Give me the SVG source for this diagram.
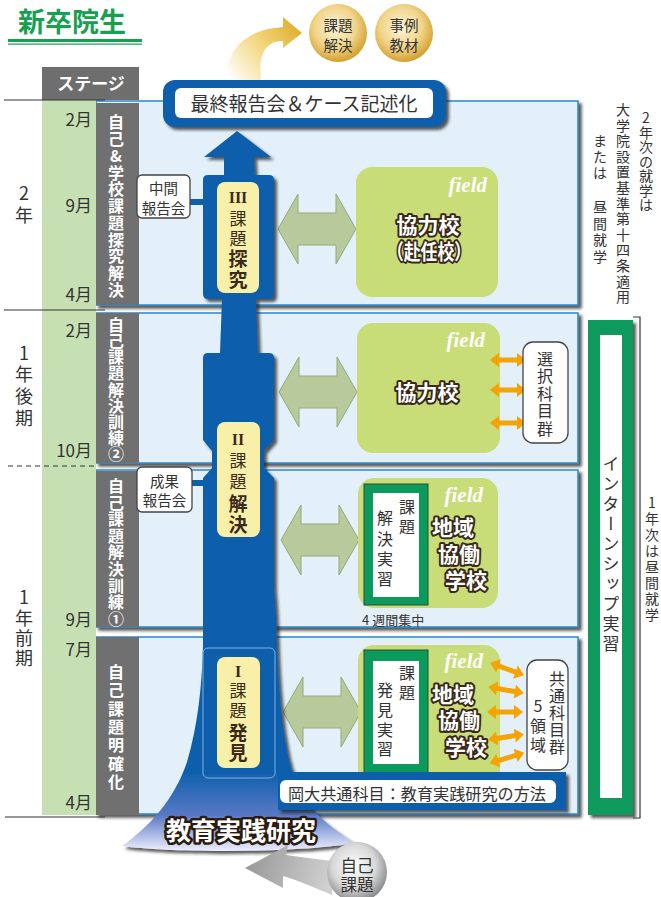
<svg xmlns="http://www.w3.org/2000/svg" width="661" height="897" viewBox="0 0 661 897">
<defs>
<style>
text{font-family:"Noto Sans CJK JP","Noto Sans",sans-serif;}
.panel{fill:#e3f0fa;stroke:#2a88cc;stroke-width:1.5;}
.gcol{fill:#707070;}
.gw{fill:#fff;font-size:16px;font-weight:bold;text-anchor:middle;}
.mon{fill:#333;font-size:17px;text-anchor:end;}
.yr{fill:#333;font-size:18px;text-anchor:middle;}
.fld{fill:#c8dc78;}
.fl{fill:#fff;font-family:"Liberation Serif",serif;font-style:italic;font-weight:bold;font-size:21px;text-anchor:end;}
.ol{fill:#fff;stroke:#3a2818;stroke-width:4px;paint-order:stroke;stroke-linejoin:round;font-weight:bold;font-size:21px;text-anchor:middle;}
.garr{fill:#b8ca9c;stroke:#93a97a;stroke-width:1;}
.oarr{fill:#f4a300;}
.lab{fill:#f8f0a8;}
.lt{fill:#3b2a1c;text-anchor:middle;font-size:17px;}
.ltb{fill:#3b2a1c;text-anchor:middle;font-size:19px;font-weight:bold;}
.rom{fill:#3b2a1c;text-anchor:middle;font-family:"Liberation Serif",serif;font-weight:bold;font-size:16px;}
.box{fill:#fff;stroke:#444;stroke-width:1.3;}
.bt{fill:#333;font-size:14.5px;text-anchor:middle;}
.vt{fill:#333;font-size:16px;text-anchor:middle;}
.note{fill:#333;font-size:14px;text-anchor:middle;}
.blue{fill:#0b5fab;}
.gbox{fill:#0a9a5c;stroke:#2a4a30;stroke-width:1;}
</style>
<filter id="ds" x="-10%" y="-10%" width="130%" height="130%"><feDropShadow dx="3" dy="3" stdDeviation="1.5" flood-color="#222" flood-opacity="0.75"/></filter>
<linearGradient id="gold" x1="230" y1="80" x2="298" y2="28" gradientUnits="userSpaceOnUse"><stop offset="0" stop-color="#ffffff"/><stop offset="0.55" stop-color="#f2d67a"/><stop offset="1" stop-color="#e0b030"/></linearGradient>
<radialGradient id="gc" cx="0.45" cy="0.4" r="0.6"><stop offset="0" stop-color="#fdf6dc"/><stop offset="0.6" stop-color="#f0d488"/><stop offset="1" stop-color="#d4a030"/></radialGradient>
<radialGradient id="sc" cx="0.45" cy="0.4" r="0.6"><stop offset="0" stop-color="#ffffff"/><stop offset="0.6" stop-color="#d8d8d8"/><stop offset="1" stop-color="#8a8a8a"/></radialGradient>
<linearGradient id="garrow" x1="250" y1="860" x2="330" y2="880" gradientUnits="userSpaceOnUse"><stop offset="0" stop-color="#9a9a9a"/><stop offset="1" stop-color="#d0d0d0"/></linearGradient>
<linearGradient id="tw" x1="0" y1="770" x2="0" y2="852" gradientUnits="userSpaceOnUse"><stop offset="0" stop-color="#0b5fab"/><stop offset="0.55" stop-color="#5878c4"/><stop offset="1" stop-color="#f2f2ff"/></linearGradient>
<path id="oa" d="M-18 0 L-9 -7 L-9 -2.5 L9 -2.5 L9 -7 L18 0 L9 7 L9 2.5 L-9 2.5 L-9 7 Z"/>
<path id="ga" d="M0 0 L20 -35 L20 -16 L58 -16 L58 -35 L78 0 L58 35 L58 16 L20 16 L20 35 Z"/>
</defs>

<g id="title">
<text x="18" y="32" font-size="27" font-weight="bold" fill="#16a050">新卒院生</text>
<rect x="8" y="39" width="134" height="3" fill="#16a050"/>
<rect x="8" y="43.5" width="134" height="1.2" fill="#16a050"/>
</g>

<g id="panels" filter="url(#ds)">
<rect class="panel" x="96" y="101" width="482" height="204"/>
<rect class="panel" x="96" y="313" width="482" height="150"/>
<rect class="panel" x="96" y="470" width="482" height="157"/>
<rect class="panel" x="96" y="637" width="482" height="177"/>
</g>

<g id="stage">
<rect x="42" y="67" width="97" height="33" fill="#6e6e6e"/>
<text x="91" y="90" fill="#fff" font-size="17" font-weight="bold" text-anchor="middle">ステージ</text>
<rect x="42" y="100" width="54" height="715" fill="#c6e0b4"/>
<g class="gcol">
<rect x="96" y="103" width="43" height="202"/>
<rect x="96" y="313" width="43" height="150"/>
<rect x="96" y="471" width="43" height="156"/>
<rect x="96" y="637" width="43" height="178"/>
</g>
<text class="gw"><tspan x="116" y="128">自</tspan><tspan x="116" y="145">己</tspan><tspan x="116" y="162">&amp;</tspan><tspan x="116" y="179">学</tspan><tspan x="116" y="195">校</tspan><tspan x="116" y="212">課</tspan><tspan x="116" y="229">題</tspan><tspan x="116" y="246">探</tspan><tspan x="116" y="262">究</tspan><tspan x="116" y="279">解</tspan><tspan x="116" y="296">決</tspan></text>
<text class="gw"><tspan x="116" y="331">自</tspan><tspan x="116" y="347">己</tspan><tspan x="116" y="363">課</tspan><tspan x="116" y="379">題</tspan><tspan x="116" y="396">解</tspan><tspan x="116" y="412">決</tspan><tspan x="116" y="428">訓</tspan><tspan x="116" y="444">練</tspan><tspan x="116" y="460">②</tspan></text>
<text class="gw"><tspan x="116" y="492">自</tspan><tspan x="116" y="509">己</tspan><tspan x="116" y="525">課</tspan><tspan x="116" y="542">題</tspan><tspan x="116" y="558">解</tspan><tspan x="116" y="575">決</tspan><tspan x="116" y="592">訓</tspan><tspan x="116" y="608">練</tspan><tspan x="116" y="625">①</tspan></text>
<text class="gw" font-size="17"><tspan x="116" y="678">自</tspan><tspan x="116" y="696">己</tspan><tspan x="116" y="715">課</tspan><tspan x="116" y="733">題</tspan><tspan x="116" y="751">明</tspan><tspan x="116" y="770">確</tspan><tspan x="116" y="788">化</tspan></text>
<text class="mon" x="92" y="126">2月</text>
<text class="mon" x="92" y="212">9月</text>
<text class="mon" x="92" y="301">4月</text>
<text class="mon" x="92" y="337">2月</text>
<text class="mon" x="92" y="457">10月</text>
<text class="mon" x="92" y="626">9月</text>
<text class="mon" x="92" y="656">7月</text>
<text class="mon" x="92" y="809">4月</text>
<text class="yr"><tspan x="24" y="200">2</tspan><tspan x="24" y="222">年</tspan></text>
<text class="yr"><tspan x="24" y="360">1</tspan><tspan x="24" y="381">年</tspan><tspan x="24" y="403">後</tspan><tspan x="24" y="425">期</tspan></text>
<text class="yr"><tspan x="24" y="604">1</tspan><tspan x="24" y="625">年</tspan><tspan x="24" y="645">前</tspan><tspan x="24" y="665">期</tspan></text>
<g stroke="#333" stroke-width="1.2">
<line x1="4" y1="100" x2="105" y2="100"/>
<line x1="4" y1="310" x2="105" y2="310"/>
<line x1="8" y1="466" x2="96" y2="466" stroke-dasharray="5,4"/>
<line x1="5" y1="817" x2="105" y2="817"/>
</g>
</g>

<g id="connectors-green">
<use href="#ga" class="garr" x="278" y="229"/>
<use href="#ga" class="garr" x="279" y="392"/>
<use href="#ga" class="garr" x="281" y="540"/>
<use href="#ga" class="garr" x="283" y="712"/>
</g>

<g id="field1">
<rect class="fld" x="356" y="167" width="142" height="130" rx="16"/>
<text class="fl" x="487" y="192">field</text>
<text class="ol" x="428" y="233">協力校</text>
<text class="ol" x="429" y="259" textLength="84" lengthAdjust="spacingAndGlyphs">（赴任校）</text>
</g>
<g id="field2">
<rect class="fld" x="357" y="323" width="143" height="130" rx="16"/>
<text class="fl" x="485" y="347">field</text>
<text class="ol" x="427" y="400">協力校</text>
</g>
<g id="field3">
<rect class="fld" x="358" y="478" width="140" height="130" rx="16"/>
<text class="fl" x="483" y="502">field</text>
<rect class="gbox" x="364" y="484" width="64" height="121"/>
<rect x="373" y="493" width="46" height="104" fill="#fff"/>
<text class="vt"><tspan x="407" y="513">課</tspan><tspan x="407" y="533">題</tspan></text>
<text class="vt"><tspan x="385" y="524">解</tspan><tspan x="385" y="545">決</tspan><tspan x="385" y="565">実</tspan><tspan x="385" y="585">習</tspan></text>
<text class="ol" x="453" y="535">地域</text>
<text class="ol" x="459" y="562">協働</text>
<text class="ol" x="466" y="588">学校</text>
<text x="362" y="625" fill="#333" font-size="13">4<tspan dx="3">週間集中</tspan></text>
</g>
<g id="field4">
<rect class="fld" x="358" y="645" width="142" height="140" rx="16"/>
<text class="fl" x="483" y="668">field</text>
<rect class="gbox" x="364" y="650" width="64" height="130"/>
<rect x="373" y="661" width="46" height="103" fill="#fff"/>
<text class="vt"><tspan x="407" y="679">課</tspan><tspan x="407" y="699">題</tspan></text>
<text class="vt"><tspan x="385" y="696">発</tspan><tspan x="385" y="716">見</tspan><tspan x="385" y="736">実</tspan><tspan x="385" y="755">習</tspan></text>
<text class="ol" x="453" y="702">地域</text>
<text class="ol" x="459" y="728">協働</text>
<text class="ol" x="466" y="755">学校</text>
</g>

<g id="connectors-orange" class="oarr">
<use href="#oa" transform="translate(508,360)"/>
<use href="#oa" transform="translate(508,390)"/>
<use href="#oa" transform="translate(508,423)"/>
<use href="#oa" transform="translate(507,669) rotate(20)"/>
<use href="#oa" transform="translate(506,690) rotate(10)"/>
<use href="#oa" transform="translate(505,712)"/>
<use href="#oa" transform="translate(506,737) rotate(-9)"/>
<use href="#oa" transform="translate(507,758) rotate(-17)"/>
</g>

<g id="electives">
<rect class="box" x="523" y="342" width="45" height="101" rx="10"/>
<text class="vt"><tspan x="545" y="365">選</tspan><tspan x="545" y="382">択</tspan><tspan x="545" y="400">科</tspan><tspan x="545" y="417">目</tspan><tspan x="545" y="435">群</tspan></text>
</g>
<g id="common">
<rect class="box" x="527" y="660" width="41" height="110" rx="10"/>
<text class="vt"><tspan x="557" y="685">共</tspan><tspan x="557" y="702">通</tspan><tspan x="557" y="719">科</tspan><tspan x="557" y="736">目</tspan><tspan x="557" y="753">群</tspan></text>
<text class="vt"><tspan x="538" y="712">5</tspan><tspan x="538" y="732">領</tspan><tspan x="538" y="751">域</tspan></text>
</g>

<g id="tower">
<path filter="url(#ds)" fill="url(#tw)" d="M237 131 L271 157 L254 157 L255 175 L269 175 Q274 175 274 180 L274 294 Q274 299 269 299 L256 299 L258 353 L269 353 Q274 353 274 358 L274 440 L264 451 L264 468 L274 478 L274 588 Q276 610 277 645 C279 700 284 755 298 788 C312 815 335 830 355 843 C300 853 170 853 122 846 C150 826 174 800 187 762 C198 725 202 685 203 645 L203 478 L212 468 L212 451 L203 440 L203 358 Q203 353 208 353 L220 353 L222 299 L208 299 Q203 299 203 294 L203 180 Q203 175 208 175 L224 175 L224 157 L204 157 Z"/>
<rect x="203" y="648" width="72" height="130" rx="5" fill="none" stroke="#7fb2e6" stroke-width="1"/>
</g>
<g id="stage3">
<rect class="lab" x="217" y="182" width="42" height="111" rx="8"/>
<text class="rom" x="238" y="203">III</text>
<text class="lt" x="238" y="225">課</text>
<text class="lt" x="238" y="245">題</text>
<text class="ltb" x="238" y="266">探</text>
<text class="ltb" x="238" y="287">究</text>
</g>
<g id="stage2">
<rect class="lab" x="217" y="422" width="43" height="115" rx="8"/>
<text class="rom" x="238" y="445">II</text>
<text class="lt" x="238" y="467">課</text>
<text class="lt" x="238" y="488">題</text>
<text class="ltb" x="238" y="511">解</text>
<text class="ltb" x="238" y="532">決</text>
</g>
<g id="stage1">
<rect class="lab" x="217" y="657" width="43" height="111" rx="8"/>
<text class="rom" x="238" y="677">I</text>
<text class="lt" x="238" y="697">課</text>
<text class="lt" x="238" y="717">題</text>
<text class="ltb" x="238" y="740">発</text>
<text class="ltb" x="238" y="760">見</text>
</g>

<g id="midreport">
<rect class="blue" x="189" y="199" width="16" height="6"/>
<rect class="box" x="137" y="175" width="53" height="43" rx="5"/>
<text class="bt" x="163.5" y="194">中間</text>
<text class="bt" x="163.5" y="214">報告会</text>
</g>
<g id="finalreport">
<rect class="blue" x="191" y="480" width="14" height="6"/>
<rect class="box" x="137" y="467" width="55" height="45" rx="5"/>
<text class="bt" x="164.5" y="487">成果</text>
<text class="bt" x="164.5" y="506">報告会</text>
</g>

<g id="common-course">
<rect class="blue" x="278" y="772" width="288" height="38" filter="url(#ds)"/>
<rect x="280" y="780" width="276" height="23" rx="6" fill="#fff"/>
<text x="417" y="800" fill="#333" font-size="16" text-anchor="middle" textLength="258" lengthAdjust="spacingAndGlyphs">岡大共通科目：教育実践研究の方法</text>
</g>

<g id="base-label">
<text x="241" y="840" font-size="25" font-weight="bold" fill="#fff" stroke="#2a1a10" stroke-width="5" stroke-linejoin="round" paint-order="stroke" text-anchor="middle">教育実践研究</text>
</g>

<g id="final-banner">
<path d="M227 80 C225 55 240 30 283 27 L283 17 L302 33 L283 48 L283 41 C265 41 258 55 261 80 Z" fill="url(#gold)"/>
<rect class="blue" x="163" y="80" width="283" height="47" rx="12" filter="url(#ds)"/>
<rect x="175" y="88" width="258" height="30" rx="6" fill="#fff"/>
<text x="304" y="111" fill="#333" font-size="19" text-anchor="middle">最終報告会＆ケース記述化</text>
</g>
<g id="circle-kadai">
<circle cx="338" cy="33" r="29" fill="url(#gc)"/>
<text class="bt" font-size="16" x="338" y="31">課題</text>
<text class="bt" font-size="16" x="338" y="51">解決</text>
</g>
<g id="circle-jirei">
<circle cx="404" cy="33" r="29" fill="url(#gc)"/>
<text class="bt" font-size="16" x="404" y="31">事例</text>
<text class="bt" font-size="16" x="404" y="51">教材</text>
</g>

<g id="self-issue">
<path d="M332 861 C316 859 300 857 286 855 L288 845 L245 868 L283 888 L283 876 C298 880 315 888 332 895 Z" fill="url(#garrow)"/>
<circle cx="357" cy="872" r="30" fill="url(#sc)"/>
<text x="357" y="872" fill="#333" font-size="16.5" text-anchor="middle">自己</text>
<text x="357" y="891" fill="#333" font-size="16.5" text-anchor="middle">課題</text>
</g>

<g id="internship">
<rect x="588" y="320" width="45" height="495" fill="#0a9a5c" filter="url(#ds)"/>
<rect x="600" y="335" width="22" height="463" fill="#fff"/>
<text x="611" y="455" fill="#333" font-size="17" letter-spacing="3" style="writing-mode:vertical-rl">インターンシップ実習</text>
<path d="M633 317 L640 317 L640 818 L633 818" fill="none" stroke="#333" stroke-width="1.2"/>
<text class="note"><tspan x="652" y="508">1</tspan><tspan x="652" y="524">年</tspan><tspan x="652" y="540">次</tspan><tspan x="652" y="556">は</tspan><tspan x="652" y="572">昼</tspan><tspan x="652" y="588">間</tspan><tspan x="652" y="604">就</tspan><tspan x="652" y="620">学</tspan></text>
</g>

<g id="note-2nd-year">
<text class="note"><tspan x="646" y="123">2</tspan><tspan x="646" y="138">年</tspan><tspan x="646" y="152">次</tspan><tspan x="646" y="167">の</tspan><tspan x="646" y="181">就</tspan><tspan x="646" y="196">学</tspan><tspan x="646" y="210">は</tspan></text>
<text class="note" font-size="14.5"><tspan x="623" y="115">大</tspan><tspan x="623" y="131">学</tspan><tspan x="623" y="146">院</tspan><tspan x="623" y="162">設</tspan><tspan x="623" y="177">置</tspan><tspan x="623" y="193">基</tspan><tspan x="623" y="209">準</tspan><tspan x="623" y="224">第</tspan><tspan x="623" y="240">十</tspan><tspan x="623" y="255">四</tspan><tspan x="623" y="271">条</tspan><tspan x="623" y="287">適</tspan><tspan x="623" y="302">用</tspan></text>
<text class="note" font-size="14.5"><tspan x="600" y="146">ま</tspan><tspan x="600" y="162">た</tspan><tspan x="600" y="178">は</tspan><tspan x="600" y="212">昼</tspan><tspan x="600" y="229">間</tspan><tspan x="600" y="245">就</tspan><tspan x="600" y="262">学</tspan></text>
</g>
</svg>
